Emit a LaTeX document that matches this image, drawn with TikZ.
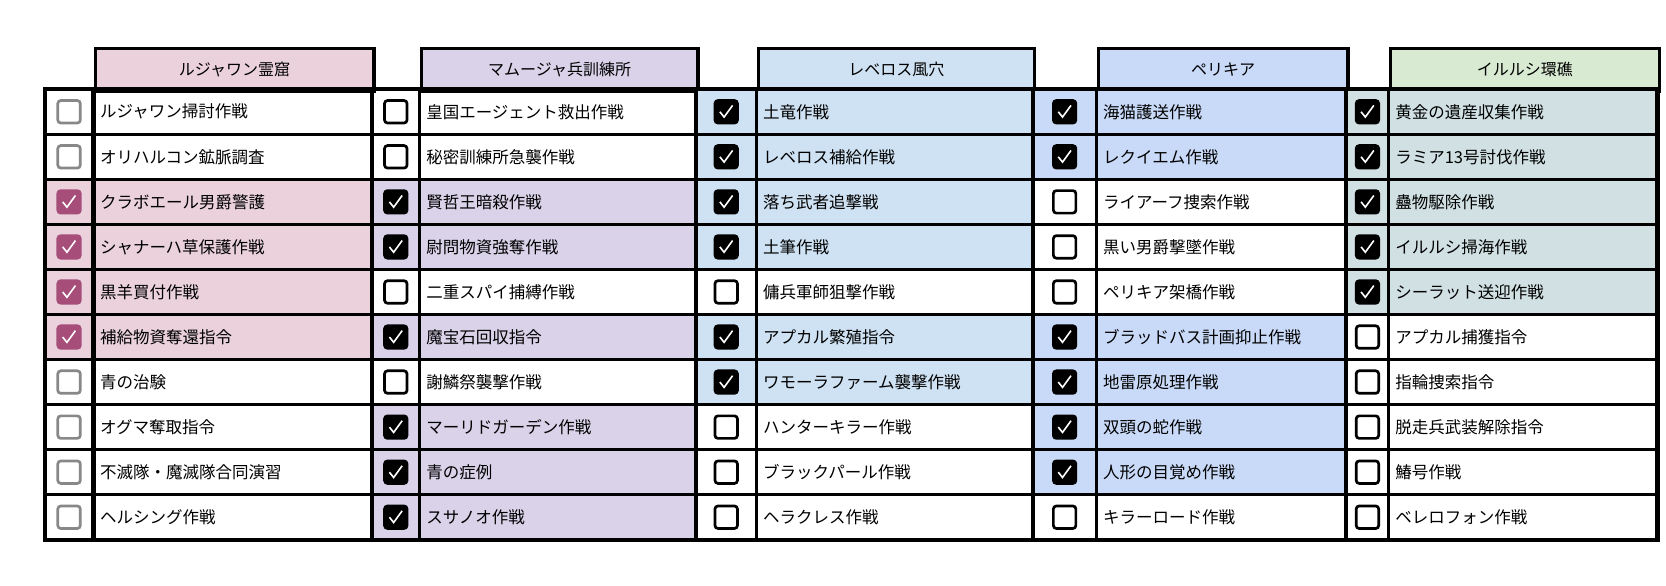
\documentclass[tikz,border=0pt]{standalone}
\usepackage{fontspec}
\setmainfont{Noto Sans CJK JP}
\definecolor{pk}{HTML}{EAD1DC}
\definecolor{lv}{HTML}{D9D2E9}
\definecolor{lb}{HTML}{CFE2F3}
\definecolor{cb}{HTML}{C9DAF8}
\definecolor{gh}{HTML}{D9EAD3}
\definecolor{gr}{HTML}{D0E0E3}
\definecolor{mg}{HTML}{A64D79}
\definecolor{gy}{HTML}{888888}
\tikzset{
  hdr/.style={draw, line width=3.7pt, anchor=north west, minimum height=42.5pt, inner sep=0pt, font=\fontsize{16pt}{18pt}\selectfont},
  cbox/.style={minimum size=22.5pt, inner sep=0pt, rounded corners=3pt, line width=2.7pt},
  itm/.style={anchor=west, inner sep=0pt, font=\fontsize{16.5pt}{18pt}\selectfont},
  thin/.style={line width=2.7pt},
  thick/.style={line width=4.2pt}
}
% #1 id, #2 x0, #3 x1, #4 x2, #5 header colour, #6 row colour, #7 checked box colour, #8 unchecked box colour, #9 title
\newcommand\grpcol[9]{%
  \node[hdr, fill=#5, minimum width={1.0625*(#4pt-#3pt)}] (h#1) at (#3,44) {#9};
  \def\gA{#2}\def\gB{#3}\def\gC{#4}\def\gid{#1}\def\gck{#7}\def\gun{#8}\def\grow{#6}%
}
\newcommand\grprows[1]{%
  \foreach \c/\t [count=\i] in {#1} {
    \pgfmathsetmacro\ya{84+(\i-1)*42.4}
    \pgfmathsetmacro\yb{84+\i*42.4}
    \ifnum\c=1 \fill[\grow] (\gA,\ya) rectangle (\gC,\yb); \fi
  }
  \foreach \i in {1,...,9} { \draw[thin] (\gA,84+\i*42.4) -- (\gC,84+\i*42.4); }
  \draw[thin] (\gB,84) -- (\gB,508);
  \foreach \c/\t [count=\i] in {#1} {
    \pgfmathsetmacro\ym{84+(\i-0.5)*42.4}
    \ifnum\c=1
      \node[cbox, fill=\gck, draw=\gck] (b\gid-\i) at ({(\gA+\gB)/2},\ym) {};
      \draw[white, line width=1.6pt] ([shift={(-6,0)}]b\gid-\i.center) -- ([shift={(-2,5)}]b\gid-\i.center) -- ([shift={(6,-6)}]b\gid-\i.center);
    \else
      \node[cbox, fill=white, draw=\gun] (b\gid-\i) at ({(\gA+\gB)/2},\ym) {};
    \fi
    \node[itm] (t\gid-\i) at (\gB+6,\ym) {\t};
  }
}
\begin{document}
\begin{tikzpicture}[x=1.0625pt,y=-1.0625pt]
\useasboundingbox (0,0) rectangle (1568,551.53);
\fill[white] (0,0) rectangle (1568,551.53);

\grpcol{1}{42}{88}{350}{pk}{pk}{mg}{gy}{ルジャワン霊窟}
\grprows{0/ルジャワン掃討作戦,0/オリハルコン鉱脈調査,1/クラボエール男爵警護,1/シャナーハ草保護作戦,1/黒羊買付作戦,1/補給物資奪還指令,0/青の治験,0/オグマ奪取指令,0/不滅隊・魔滅隊合同演習,0/ヘルシング作戦}

\grpcol{2}{350}{395}{655}{lv}{lv}{black}{black}{マムージャ兵訓練所}
\grprows{0/皇国エージェント救出作戦,0/秘密訓練所急襲作戦,1/賢哲王暗殺作戦,1/尉問物資強奪作戦,0/二重スパイ捕縛作戦,1/魔宝石回収指令,0/謝鱗祭襲撃作戦,1/マーリドガーデン作戦,1/青の症例,1/スサノオ作戦}

\grpcol{3}{655}{712}{972}{lb}{lb}{black}{black}{レベロス風穴}
\grprows{1/土竜作戦,1/レベロス補給作戦,1/落ち武者追撃戦,1/土筆作戦,0/傭兵軍師狙撃作戦,1/アプカル繁殖指令,1/ワモーラファーム襲撃作戦,0/ハンターキラー作戦,0/ブラックパール作戦,0/ヘラクレス作戦}

\grpcol{4}{972}{1032}{1267}{cb}{cb}{black}{black}{ペリキア}
\grprows{1/海猫護送作戦,1/レクイエム作戦,0/ライアーフ捜索作戦,0/黒い男爵撃墜作戦,0/ペリキア架橋作戦,1/ブラッドバス計画抑止作戦,1/地雷原処理作戦,1/双頭の蛇作戦,1/人形の目覚め作戦,0/キラーロード作戦}

\grpcol{5}{1267}{1307}{1560}{gh}{gr}{black}{black}{イルルシ環礁}
\grprows{1/黄金の遺産収集作戦,1/ラミア13号討伐作戦,1/蠱物駆除作戦,1/イルルシ掃海作戦,1/シーラット送迎作戦,0/アプカル捕獲指令,0/指輪捜索指令,0/脱走兵武装解除指令,0/鰆号作戦,0/ベレロフォン作戦}

\draw[thick] (42,84) rectangle (1560,508);
\foreach \x in {88,350,655,972,1267} { \draw[thick] (\x,84) -- (\x,508); }
\end{tikzpicture}
\end{document}
